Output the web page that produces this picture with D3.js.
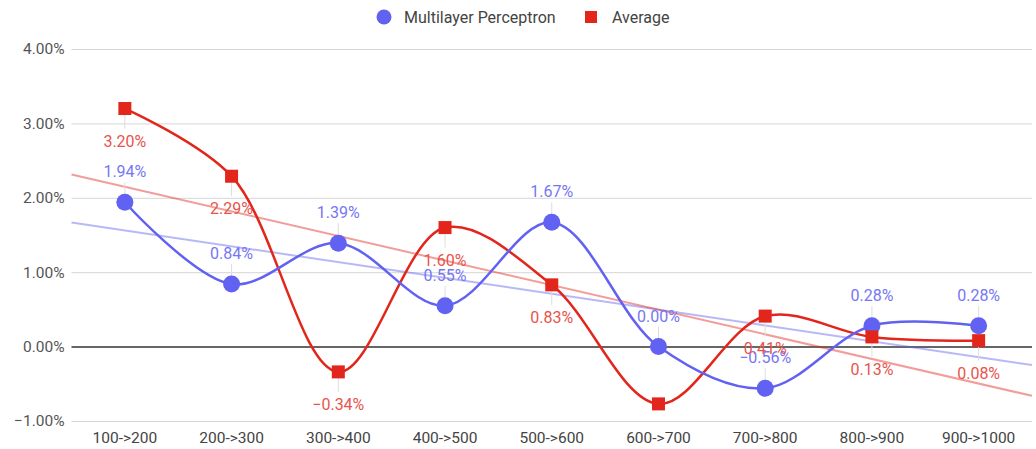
<!DOCTYPE html>
<html><head><meta charset="utf-8">
<script src="https://cdn.jsdelivr.net/npm/d3@7"></script>
<style>body{margin:0;background:#fff}svg{display:block;font-family:Roboto,"Noto Sans",sans-serif}</style>
</head><body><svg id="c" width="1036" height="449"></svg>
<script>
const categories = ["100->200","200->300","300->400","400->500","500->600","600->700","700->800","800->900","900->1000"];
const mlpValues = [1.94, 0.84, 1.39, 0.55, 1.67, 0.00, -0.56, 0.28, 0.28];
const avgValues = [3.20, 2.29, -0.34, 1.60, 0.83, -0.77, 0.41, 0.13, 0.08];
const avgLabelShown = [true,true,true,true,true,false,true,true,true];
const yTicks = [-1, 0, 1, 2, 3, 4];
const seriesNames = ["Multilayer Perceptron", "Average"];

const pLeft = 71.5, pRight = 1032, pTop = 49, pBottom = 421;
const svg = d3.select("#c");
const x = d3.scaleBand().domain(categories).range([pLeft, pRight]);
const xc = d => x(d) + x.bandwidth() / 2;
const y = d3.scaleLinear().domain([-1, 4]).range([pBottom, pTop]);
const fmt = v => (v < 0 ? "\u2212" : "") + Math.abs(v).toFixed(2) + "%";

const blue = "#6161f2", red = "#e2261c";
const blueLbl = "#7676f4", redLbl = "#e8544c";
const FS = 15.5;

// grid
const yAxis = d3.axisLeft(y).tickValues(yTicks).tickSize(-(pRight - pLeft)).tickFormat(fmt).tickPadding(7);
const ga = svg.append("g").attr("transform", `translate(${pLeft},0)`).call(yAxis);
ga.select(".domain").remove();
ga.selectAll(".tick line").attr("stroke", d => d === 0 ? "#333" : "#d6d6d6").attr("stroke-width", d => d === 0 ? 1.5 : 1);
ga.selectAll(".tick text").attr("fill", "#555").attr("font-size", FS).attr("font-family", "Roboto,sans-serif");

// x axis
const xAxis = d3.axisBottom(x).tickSize(0).tickPadding(8);
const gx = svg.append("g").attr("transform", `translate(0,${pBottom + 3})`).call(xAxis);
gx.select(".domain").remove();
gx.selectAll(".tick text").attr("fill", "#444").attr("font-size", FS).attr("font-family", "Roboto,sans-serif");

// trend lines (least squares of the data)
function trend(vals) {
  const n = vals.length, xs = d3.range(n);
  const mx = d3.mean(xs), my = d3.mean(vals);
  const b = d3.sum(xs, i => (i - mx) * (vals[i] - my)) / d3.sum(xs, i => (i - mx) ** 2);
  return i => my + b * (i - mx);
}
const idxToPx = d3.scaleLinear().domain([0, categories.length - 1]).range([xc(categories[0]), xc(categories[categories.length - 1])]);
function drawTrend(vals, color) {
  const f = trend(vals);
  const i0 = idxToPx.invert(pLeft), i1 = idxToPx.invert(pRight);
  svg.append("line").attr("x1", pLeft).attr("x2", pRight)
    .attr("y1", y(f(i0))).attr("y2", y(f(i1)))
    .attr("stroke", color).attr("stroke-width", 2).attr("stroke-opacity", 0.45);
}
drawTrend(mlpValues, blue);
drawTrend(avgValues, red);

const line = d3.line().x((d, i) => xc(categories[i])).y(d => y(d)).curve(d3.curveCatmullRom.alpha(0.5));

const mlpPts = mlpValues.map((v, i) => ({v, c: categories[i], show: true}));
const avgPts = avgValues.map((v, i) => ({v, c: categories[i], show: avgLabelShown[i]}));

// stems
function stems(pts, dir) {
  svg.append("g").selectAll("line").data(pts.filter(p => p.show)).join("line")
    .attr("x1", p => xc(p.c)).attr("x2", p => xc(p.c))
    .attr("y1", p => y(p.v)).attr("y2", p => y(p.v) + dir * 20)
    .attr("stroke", "#ddd").attr("stroke-width", 1);
}
stems(mlpPts, -1);
stems(avgPts, 1);

svg.append("path").datum(avgValues).attr("d", line).attr("fill", "none").attr("stroke", red).attr("stroke-width", 2.5);
svg.append("path").datum(mlpValues).attr("d", line).attr("fill", "none").attr("stroke", blue).attr("stroke-width", 2.5);

svg.append("g").selectAll("circle").data(mlpPts).join("circle")
  .attr("cx", p => xc(p.c)).attr("cy", p => y(p.v)).attr("r", 8.5).attr("fill", blue);
svg.append("g").selectAll("rect").data(avgPts).join("rect")
  .attr("x", p => xc(p.c) - 6.5).attr("y", p => y(p.v) - 6.5)
  .attr("width", 13).attr("height", 13).attr("fill", red);

// labels
svg.append("g").selectAll("text").data(mlpPts).join("text")
  .attr("x", p => xc(p.c)).attr("y", p => y(p.v) - 25)
  .attr("text-anchor", "middle").attr("font-size", 16).attr("fill", blueLbl)
  .text(p => fmt(p.v));
svg.append("g").selectAll("text").data(avgPts.filter(p => p.show)).join("text")
  .attr("x", p => xc(p.c)).attr("y", p => y(p.v) + 38)
  .attr("text-anchor", "middle").attr("font-size", 16).attr("fill", redLbl)
  .text(p => fmt(p.v));

// legend
const lg = svg.append("g");
lg.append("circle").attr("cx", 384).attr("cy", 17).attr("r", 7.5).attr("fill", blue);
lg.append("text").attr("x", 404).attr("y", 22.5).attr("font-size", 16).attr("fill", "#444").text(seriesNames[0]);
lg.append("rect").attr("x", 585).attr("y", 11).attr("width", 12).attr("height", 12).attr("fill", red);
lg.append("text").attr("x", 612).attr("y", 22.5).attr("font-size", 16).attr("fill", "#444").text(seriesNames[1]);
</script></body></html>
